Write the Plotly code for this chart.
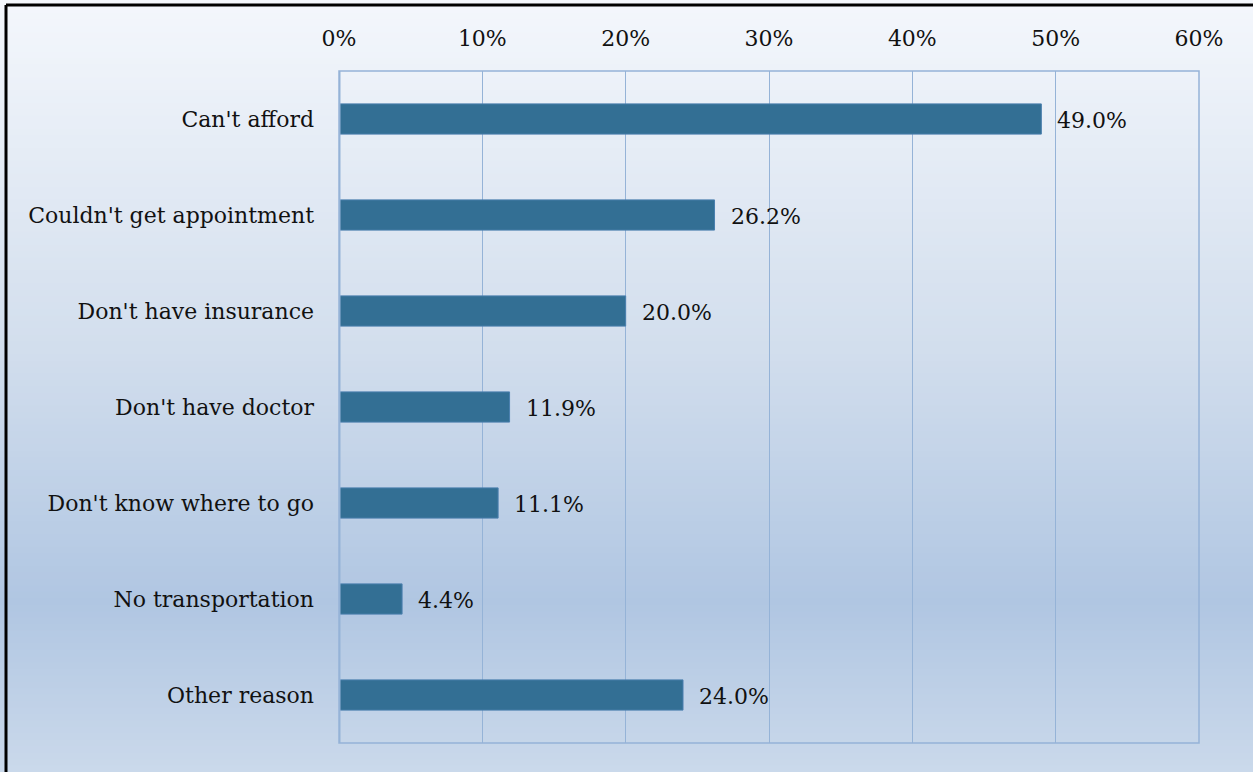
import plotly.graph_objects as go

# Reasons for not getting care, share of respondents
categories = [
    "Can't afford",
    "Couldn't get appointment",
    "Don't have insurance",
    "Don't have doctor",
    "Don't know where to go",
    "No transportation",
    "Other reason",
]
values = [0.490, 0.262, 0.200, 0.119, 0.111, 0.044, 0.240]
tick_vals = [0, 0.1, 0.2, 0.3, 0.4, 0.5, 0.6]
tick_text = ["0%", "10%", "20%", "30%", "40%", "50%", "60%"]

FONT = "DejaVu Serif"
FONT_SIZE = 22
BAR = "#336F94"
GRID = "#95B3D7"

W, H = 1253, 772
margin_l, margin_r, margin_t, margin_b = 339, 54, 71, 29
plot_w = W - margin_l - margin_r
plot_h = H - margin_t - margin_b

fig = go.Figure()
fig.add_trace(go.Bar(
    x=values,
    y=categories,
    orientation="h",
    marker=dict(color=BAR, line=dict(color="#4A7FAE", width=1)),
    hoverinfo="skip",
))

# value labels just past the end of each bar
for cat, v in zip(categories, values):
    fig.add_annotation(
        x=v, y=cat, xref="x", yref="y",
        text=f"{v * 100:.1f}%", showarrow=False,
        xanchor="left", yanchor="middle", xshift=14, yshift=-1,
        font=dict(family=FONT, size=FONT_SIZE, color="#111111"),
    )

# vertical background gradient built from thin horizontal bands
stops = [
    (0.00, (244, 247, 252)),
    (0.45, (210, 222, 237)),
    (0.78, (176, 198, 226)),
    (1.00, (202, 217, 235)),
]


def colour_at(t):
    for (t0, c0), (t1, c1) in zip(stops[:-1], stops[1:]):
        if t0 <= t <= t1:
            f = (t - t0) / (t1 - t0) if t1 > t0 else 0
            return tuple(round(a + (b - a) * f) for a, b in zip(c0, c1))
    return stops[-1][1]


def px_to_paper_y(py):
    return 1 + (margin_t - py) / plot_h


def px_to_paper_x(px):
    return (px - margin_l) / plot_w


shapes = []
n_bands = 120
for i in range(n_bands):
    t = (i + 0.5) / n_bands
    r, g, b = colour_at(t)
    top_px = H * i / n_bands
    bot_px = H * (i + 1) / n_bands + 1
    shapes.append(dict(
        type="rect", xref="paper", yref="paper", layer="below",
        x0=-2, x1=2, y0=px_to_paper_y(bot_px), y1=px_to_paper_y(top_px),
        line=dict(width=0), fillcolor=f"rgb({r},{g},{b})",
    ))

# plot-area frame
shapes.append(dict(
    type="rect", xref="paper", yref="paper", layer="above",
    x0=0, x1=1, y0=0, y1=1, line=dict(color=GRID, width=1.5),
))

# outer chart border (top and left edges)
shapes.append(dict(
    type="line", xref="paper", yref="paper", layer="above",
    x0=px_to_paper_x(6), x1=px_to_paper_x(W + 10),
    y0=px_to_paper_y(5), y1=px_to_paper_y(5),
    line=dict(color="#000000", width=3),
))
shapes.append(dict(
    type="line", xref="paper", yref="paper", layer="above",
    x0=px_to_paper_x(6), x1=px_to_paper_x(6),
    y0=px_to_paper_y(5), y1=px_to_paper_y(H + 10),
    line=dict(color="#000000", width=3),
))
# heavier value-axis baseline at 0
shapes.append(dict(
    type="line", xref="x", yref="paper", layer="above",
    x0=0, x1=0, y0=0, y1=1, line=dict(color=GRID, width=3),
))

fig.update_layout(
    width=W, height=H,
    margin=dict(l=margin_l, r=margin_r, t=margin_t, b=margin_b, pad=0),
    paper_bgcolor="rgba(0,0,0,0)",
    plot_bgcolor="rgba(0,0,0,0)",
    showlegend=False,
    bargap=0.685,
    shapes=shapes,
    font=dict(family=FONT, size=FONT_SIZE, color="#111111"),
    xaxis=dict(
        range=[0, 0.6], side="top",
        tickvals=tick_vals, ticktext=tick_text,
        showgrid=True, gridcolor=GRID, gridwidth=1,
        zeroline=False, showline=False, ticks="",
        ticklabelstandoff=20,
        tickfont=dict(family=FONT, size=FONT_SIZE, color="#111111"),
        fixedrange=True,
    ),
    yaxis=dict(
        autorange="reversed", showgrid=False, zeroline=False,
        showline=False, ticks="",
        ticklabelstandoff=24,
        tickfont=dict(family=FONT, size=FONT_SIZE, color="#111111"),
        fixedrange=True,
    ),
)

fig.write_html("out.html", config={"displayModeBar": False})
